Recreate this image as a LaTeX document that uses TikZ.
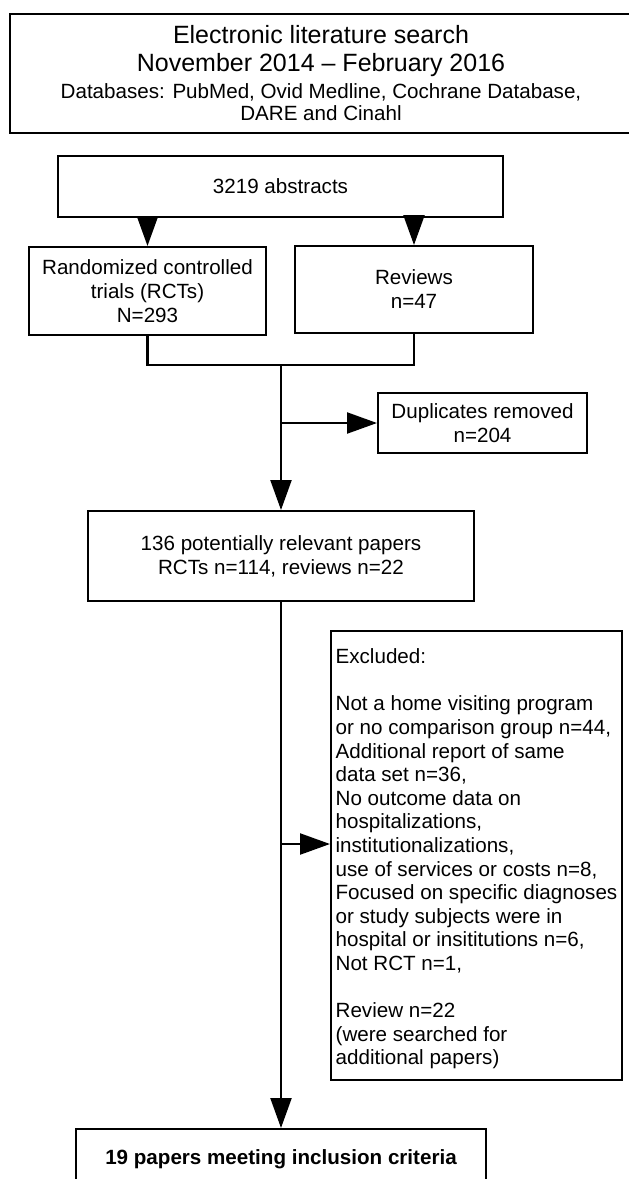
\documentclass[tikz,border=0pt]{standalone}
\usepackage{fontspec}
\setmainfont{Liberation Sans}
\usetikzlibrary{arrows.meta}
\begin{document}
\begin{tikzpicture}[x=1pt,y=-1pt,line width=2pt,
  box/.style={draw,rectangle,inner sep=0pt,align=center,font=\fontsize{20.6}{24}\selectfont},
  arr/.style={line width=2.3pt,-{Triangle[length=30pt,width=21pt]}},
  link/.style={line width=2.3pt,line join=miter}]
\path[use as bounding box] (0,0) rectangle (629,1179);
\clip (0,0) rectangle (629,1179);
% top box
\node[box,minimum width=622pt,minimum height=119pt,font=\fontsize{25}{28}\selectfont] (search) at (321,73.5)
 {Electronic literature search\\November 2014 -- February 2016\\[-1pt]
  {\fontsize{20.6}{22}\selectfont Databases: PubMed, Ovid Medline, Cochrane Database,}\\[-6pt]
  {\fontsize{20.6}{22}\selectfont DARE and Cinahl}};
\node[box,minimum width=445pt,minimum height=61pt] (abs) at (280.5,186.5) {3219 abstracts};
\node[box,minimum width=237pt,minimum height=88pt] (rct) at (147.5,291) {Randomized controlled\\trials (RCTs)\\N=293};
\node[box,minimum width=238pt,minimum height=87pt] (rev) at (414,289.5) {Reviews\\n=47};
\node[box,minimum width=209pt,minimum height=60pt] (dup) at (482.5,423) {Duplicates removed\\n=204};
\node[box,minimum width=386pt,minimum height=90pt] (pot) at (281,556) {136 potentially relevant papers\\RCTs n=114, reviews n=22};
\node[draw,rectangle,inner sep=0pt,align=left,minimum width=291pt,minimum height=449pt,
  font=\fontsize{20.6}{23.6}\selectfont] (exc) at (476.5,855.5)
 {\rule{0pt}{22pt}Excluded:\\[23.6pt]
  Not a home visiting program\\
  or no comparison group n=44,\\
  Additional report of same\\
  data set n=36,\\
  No outcome data on\\
  hospitalizations,\\
  institutionalizations,\\
  use of services or costs n=8,\\
  Focused on specific diagnoses\\
  or study subjects were in\\
  hospital or insititutions n=6,\\
  Not RCT n=1,\\[23.6pt]
  Review n=22\\
  (were searched for\\
  additional papers)};
\node[draw,rectangle,inner sep=0pt,anchor=north,minimum width=410pt,minimum height=130pt,
  text height=35pt,text depth=95pt,font=\fontsize{20.6}{24}\selectfont\bfseries] (fin) at (281,1128)
 {19 papers meeting inclusion criteria};
% connectors
\coordinate (m) at (281,365);
\coordinate (e1) at (281,844);
\draw[arr] (abs.south -| rct.north) -- (rct.north);
\draw[arr] (abs.south -| rev.north) -- (rev.north);
\draw[link] (rct.south) |- (m) -| (rev.south);
\draw[arr] (m) -- (pot.north);
\draw[arr] (m |- dup.west) -- (dup.west);
\draw[arr] (e1) -- (e1 -| exc.west);
\draw[arr] (pot.south) -- (fin.north);
\end{tikzpicture}
\end{document}
